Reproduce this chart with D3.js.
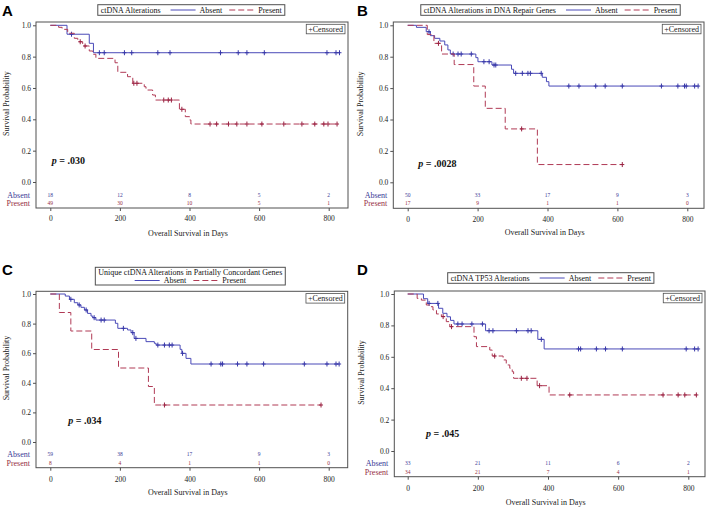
<!DOCTYPE html>
<html><head><meta charset="utf-8">
<script src="https://cdn.jsdelivr.net/npm/d3@7"></script>
<style>body{margin:0;background:#fff} svg{display:block}</style>
</head><body>
<svg id="c" width="709" height="508"></svg>
<script>
// ---------- data ----------
const timeTicks = [0, 200, 400, 600, 800];
const survTicks = [0, 0.2, 0.4, 0.6, 0.8, 1.0];
const groups = ["Absent", "Present"];
const panelLetters = ["A", "B", "C", "D"];
const legendTitles = ["ctDNA Alterations", "ctDNA Alterations in DNA Repair Genes",
  "Unique ctDNA Alterations in Partially Concordant Genes", "ctDNA TP53 Alterations"];
const pLabels = [".030", ".0028", ".034", ".045"];

// Panel A
const aAbsentT = [48, 112, 124];
const aAbsentS = [0.943, 0.885, 0.825];
const aAbsentCens = [61, 141, 155, 213, 234, 309, 344, 489, 540, 565, 615, 795, 821, 831];
const aPresentT = [24, 34, 50, 69, 79, 93, 112, 122, 131, 186, 194, 222, 237, 270, 275, 294, 302, 371, 388, 400, 404];
const aPresentS = [0.987, 0.974, 0.949, 0.917, 0.895, 0.868, 0.836, 0.815, 0.789, 0.761, 0.70, 0.672, 0.63, 0.608, 0.587, 0.555, 0.523, 0.464, 0.417, 0.396, 0.37];
const aPresentCens = [86, 100, 240, 249, 326, 339, 348, 378, 459, 478, 512, 536, 565, 608, 671, 723, 760, 786, 798, 824];
const aAbsentRisk = [18, 12, 8, 5, 2];
const aPresentRisk = [49, 30, 10, 5, 1];

// Panel B
const bAbsentT = [25, 53, 65, 77, 92, 106, 115, 122, 195, 201, 241, 297, 303, 385, 397, 404];
const bAbsentS = [0.987, 0.959, 0.934, 0.917, 0.9, 0.875, 0.843, 0.817, 0.794, 0.768, 0.747, 0.72, 0.694, 0.669, 0.641, 0.613];
const bAbsentCens = [61, 130, 144, 153, 182, 218, 233, 247, 252, 309, 328, 344, 351, 382, 461, 490, 538, 565, 614, 726, 773, 792, 797, 821, 831];
const bPresentT = [56, 75, 97, 133, 189, 222, 279, 371];
const bPresentS = [0.941, 0.885, 0.817, 0.75, 0.613, 0.471, 0.34, 0.113];
const bPresentCens = [88, 326, 614];
const bAbsentRisk = [50, 33, 17, 9, 3];
const bPresentRisk = [17, 9, 1, 1, 0];

// Panel C
const cAbsentT = [43, 55, 69, 79, 88, 98, 107, 117, 122, 131, 187, 194, 222, 232, 241, 275, 299, 304, 373, 378, 390, 404];
const cAbsentS = [0.986, 0.964, 0.941, 0.926, 0.91, 0.892, 0.869, 0.851, 0.84, 0.824, 0.802, 0.768, 0.757, 0.739, 0.70, 0.678, 0.667, 0.655, 0.626, 0.599, 0.565, 0.527];
const cAbsentCens = [59, 83, 103, 126, 146, 155, 210, 237, 246, 309, 328, 342, 350, 380, 462, 490, 495, 538, 565, 613, 730, 795, 821, 830];
const cPresentT = [26, 59, 119, 196, 282, 299];
const cPresentS = [0.875, 0.75, 0.625, 0.5, 0.375, 0.25];
const cPresentCens = [328, 778];
const cAbsentRisk = [59, 38, 17, 9, 3];
const cPresentRisk = [8, 4, 1, 1, 0];

// Panel D
const dAbsentT = [45, 57, 88, 100, 112, 122, 132, 222, 371, 389];
const dAbsentS = [0.97, 0.94, 0.909, 0.877, 0.855, 0.832, 0.809, 0.766, 0.711, 0.65];
const dAbsentCens = [61, 86, 143, 155, 183, 213, 232, 243, 310, 343, 352, 381, 487, 493, 538, 564, 612, 794, 818, 828];
const dPresentT = [27, 39, 53, 63, 72, 82, 96, 110, 120, 189, 196, 234, 241, 272, 281, 291, 298, 302, 369, 403];
const dPresentS = [0.972, 0.961, 0.93, 0.919, 0.898, 0.873, 0.856, 0.824, 0.792, 0.728, 0.665, 0.643, 0.605, 0.58, 0.548, 0.527, 0.505, 0.463, 0.416, 0.357];
const dPresentCens = [101, 125, 248, 324, 340, 376, 462, 728, 771, 790, 823];
const dAbsentRisk = [33, 21, 11, 6, 2];
const dPresentRisk = [34, 21, 7, 4, 1];

// ---------- layout (positions only) ----------
const layouts = [
  {lx:2, ly:16, fx0:36, fx1:348, fy0:22, fy1:208, x0:50.3, x8:328.7, y1:25.3, y0:182,
   absRow:194.8, preRow:203.4, tickPad:5, titleY:233, ytx:9, legCx:191.3, legTop:4.7, legH:10.6, twoLine:false, pX:51.7, pY:163.5},
  {lx:357, ly:16, fx0:393.3, fx1:704, fy0:22, fy1:208.3, x0:407.7, x8:687.3, y1:25.3, y0:182.3,
   absRow:194.8, preRow:203.4, tickPad:5, titleY:232.5, ytx:363, legCx:550.5, legTop:4.7, legH:10.6, twoLine:false, pX:418.3, pY:166.5},
  {lx:2, ly:275, fx0:36, fx1:347.7, fy0:291.3, fy1:467.7, x0:50.3, x8:328.7, y1:294, y0:442,
   absRow:454.3, preRow:463.3, tickPad:5.5, titleY:492.3, ytx:9, legCx:190.3, legTop:267.3, legH:17.7, twoLine:true, pX:68.3, pY:423.5},
  {lx:357, ly:275, fx0:394.3, fx1:705, fy0:291, fy1:476.7, x0:407.7, x8:688.3, y1:294, y0:451,
   absRow:463.3, preRow:472.3, tickPad:5.5, titleY:501.7, ytx:364, legCx:550.8, legTop:272.7, legH:10.6, twoLine:false, pX:426, pY:436.8}
];

const panels = [
  {absent:{T:aAbsentT,S:aAbsentS,C:aAbsentCens,R:aAbsentRisk}, present:{T:aPresentT,S:aPresentS,C:aPresentCens,R:aPresentRisk}},
  {absent:{T:bAbsentT,S:bAbsentS,C:bAbsentCens,R:bAbsentRisk}, present:{T:bPresentT,S:bPresentS,C:bPresentCens,R:bPresentRisk}},
  {absent:{T:cAbsentT,S:cAbsentS,C:cAbsentCens,R:cAbsentRisk}, present:{T:cPresentT,S:cPresentS,C:cPresentCens,R:cPresentRisk}},
  {absent:{T:dAbsentT,S:dAbsentS,C:dAbsentCens,R:dAbsentRisk}, present:{T:dPresentT,S:dPresentS,C:dPresentCens,R:dPresentRisk}}
];

const SERIF = "'Liberation Serif','Times New Roman',serif";
const BLUE = "#4a4ab8", RED = "#b03a55";
const BLUE_TXT = "#3a3a96", RED_TXT = "#962e44";
const FRAME = "#505050";
const DASH = "6,3";

const svg = d3.select("#c");

function stepVal(T, S, t) {
  let v = 1;
  for (let i = 0; i < T.length; i++) if (T[i] <= t) v = S[i];
  return v;
}

panels.forEach((P, i) => {
  const L = layouts[i];
  const g = svg.append("g");
  const x = d3.scaleLinear().domain([0, 800]).range([L.x0, L.x8]);
  const y = d3.scaleLinear().domain([0, 1]).range([L.y0, L.y1]);

  // panel letter
  g.append("text").attr("x", L.lx).attr("y", L.ly).text(panelLetters[i])
    .style("font-family", "'Liberation Sans',Arial,sans-serif").style("font-weight", "bold").style("font-size", "15px");

  // frame
  g.append("rect").attr("x", L.fx0).attr("y", L.fy0).attr("width", L.fx1 - L.fx0).attr("height", L.fy1 - L.fy0)
    .attr("fill", "none").attr("stroke", FRAME).attr("stroke-width", 1);

  // x axis
  const xa = g.append("g").attr("transform", `translate(0,${L.fy1})`)
    .call(d3.axisBottom(x).tickValues(timeTicks).tickSize(3).tickSizeOuter(0).tickPadding(L.tickPad));
  xa.select(".domain").remove();
  xa.selectAll("line").attr("stroke", FRAME);
  xa.selectAll("text").style("font-family", SERIF).style("font-size", "7.5px").attr("fill", "#222");

  // y axis
  const ya = g.append("g").attr("transform", `translate(${L.fx0},0)`)
    .call(d3.axisLeft(y).tickValues(survTicks).tickFormat(d3.format(".1f")).tickSize(3).tickSizeOuter(0).tickPadding(2));
  ya.select(".domain").remove();
  ya.selectAll("line").attr("stroke", FRAME);
  ya.selectAll("text").style("font-family", SERIF).style("font-size", "7.5px").attr("fill", "#222");

  // axis titles
  g.append("text").attr("x", (L.fx0 + L.fx1) / 2 - 4).attr("y", L.titleY).attr("dy", "0.35em")
    .attr("text-anchor", "middle").text("Overall Survival in Days")
    .style("font-family", SERIF).style("font-size", "8px").attr("fill", "#222");
  g.append("text").attr("transform", `translate(${L.ytx},${(L.y0 + L.y1) / 2}) rotate(-90)`)
    .attr("text-anchor", "middle").text("Survival Probability")
    .style("font-family", SERIF).style("font-size", "8px").attr("fill", "#222");

  // curves
  const line = d3.line().x(d => x(d[0])).y(d => y(d[1])).curve(d3.curveStepAfter);
  [["absent", BLUE, null], ["present", RED, DASH]].forEach(([key, col, dash]) => {
    const s = P[key];
    const end = Math.max(d3.max(s.C), d3.max(s.T));
    const pts = [[0, 1]].concat(s.T.map((t, k) => [t, s.S[k]]));
    pts.push([end, s.S[s.S.length - 1]]);
    g.append("path").attr("d", line(pts)).attr("fill", "none").attr("stroke", col)
      .attr("stroke-width", 1).attr("stroke-dasharray", dash);
    g.selectAll(null).data(s.C).enter().append("path")
      .attr("d", t => { const cx = x(t), cy = y(stepVal(s.T, s.S, t)); return `M${cx},${cy - 2.5}v5M${cx - 2},${cy}h4`; })
      .attr("stroke", key === "absent" ? "#3838a8" : "#9a2242").attr("stroke-width", 1).attr("fill", "none");
  });

  // Censored box
  const cg = g.append("g");
  const ct = cg.append("text").text("+Censored").style("font-family", SERIF).style("font-size", "8px").attr("fill", "#222");
  const cw = ct.node().getComputedTextLength();
  const bw = cw + 4, bh = 9.5;
  const bx = L.fx1 - 3 - bw, by = L.fy0 + 2.3;
  cg.insert("rect", "text").attr("x", bx).attr("y", by).attr("width", bw).attr("height", bh)
    .attr("fill", "#fff").attr("stroke", FRAME).attr("stroke-width", 0.8);
  ct.attr("x", bx + 2).attr("y", by + 7.2);

  // p value
  const pt = g.append("text").attr("x", L.pX).attr("y", L.pY)
    .style("font-family", SERIF).style("font-size", "10px").style("font-weight", "bold").attr("fill", "#111");
  pt.append("tspan").style("font-style", "italic").text("p");
  pt.append("tspan").text(" = " + pLabels[i]);

  // at-risk table
  [["absent", L.absRow, BLUE_TXT], ["present", L.preRow, RED_TXT]].forEach(([key, ry, col], gi) => {
    g.append("text").attr("x", L.fx0 - 6).attr("y", ry).attr("dy", "0.35em").attr("text-anchor", "end")
      .text(groups[gi]).style("font-family", SERIF).style("font-size", "8px").attr("fill", col);
    g.selectAll(null).data(P[key].R).enter().append("text")
      .attr("x", (d, k) => x(timeTicks[k])).attr("y", ry).attr("dy", "0.35em").attr("text-anchor", "middle")
      .text(d => d).style("font-family", SERIF).style("font-size", "5.5px").attr("fill", col);
  });

  // legend
  const lg = g.append("g");
  const fs = "8px";
  const title = lg.append("text").text(legendTitles[i]).style("font-family", SERIF).style("font-size", fs).attr("fill", "#111");
  const tA = lg.append("text").text(groups[0]).style("font-family", SERIF).style("font-size", fs).attr("fill", "#111");
  const tP = lg.append("text").text(groups[1]).style("font-family", SERIF).style("font-size", fs).attr("fill", "#111");
  const wT = title.node().getComputedTextLength(), wA = tA.node().getComputedTextLength(), wP = tP.node().getComputedTextLength();
  const segW = 25, pad = 3;
  const itemsW = segW + 4 + wA + 7 + segW + 4 + wP;
  let boxW, boxX, rowY2, sx;
  if (!L.twoLine) {
    boxW = pad + wT + 10 + itemsW + pad;
    boxX = L.legCx - boxW / 2;
    const by2 = L.legTop + L.legH / 2;
    title.attr("x", boxX + pad).attr("y", by2).attr("dy", "0.35em");
    sx = boxX + pad + wT + 10;
    rowY2 = by2;
  } else {
    boxW = Math.max(wT, itemsW) + 2 * pad;
    boxX = L.legCx - boxW / 2;
    title.attr("x", L.legCx).attr("text-anchor", "middle").attr("y", L.legTop + 4.8).attr("dy", "0.35em");
    sx = L.legCx - itemsW / 2;
    rowY2 = L.legTop + 13.2;
  }
  lg.insert("rect", "text").attr("x", boxX).attr("y", L.legTop).attr("width", boxW).attr("height", L.legH)
    .attr("fill", "#fff").attr("stroke", FRAME).attr("stroke-width", 1);
  lg.append("line").attr("x1", sx).attr("x2", sx + segW).attr("y1", rowY2).attr("y2", rowY2)
    .attr("stroke", BLUE).attr("stroke-width", 1);
  tA.attr("x", sx + segW + 4).attr("y", rowY2).attr("dy", "0.35em");
  const sx2 = sx + segW + 4 + wA + 7;
  lg.append("line").attr("x1", sx2).attr("x2", sx2 + segW).attr("y1", rowY2).attr("y2", rowY2)
    .attr("stroke", RED).attr("stroke-width", 1).attr("stroke-dasharray", DASH);
  tP.attr("x", sx2 + segW + 4).attr("y", rowY2).attr("dy", "0.35em");
});
</script>
</body></html>
